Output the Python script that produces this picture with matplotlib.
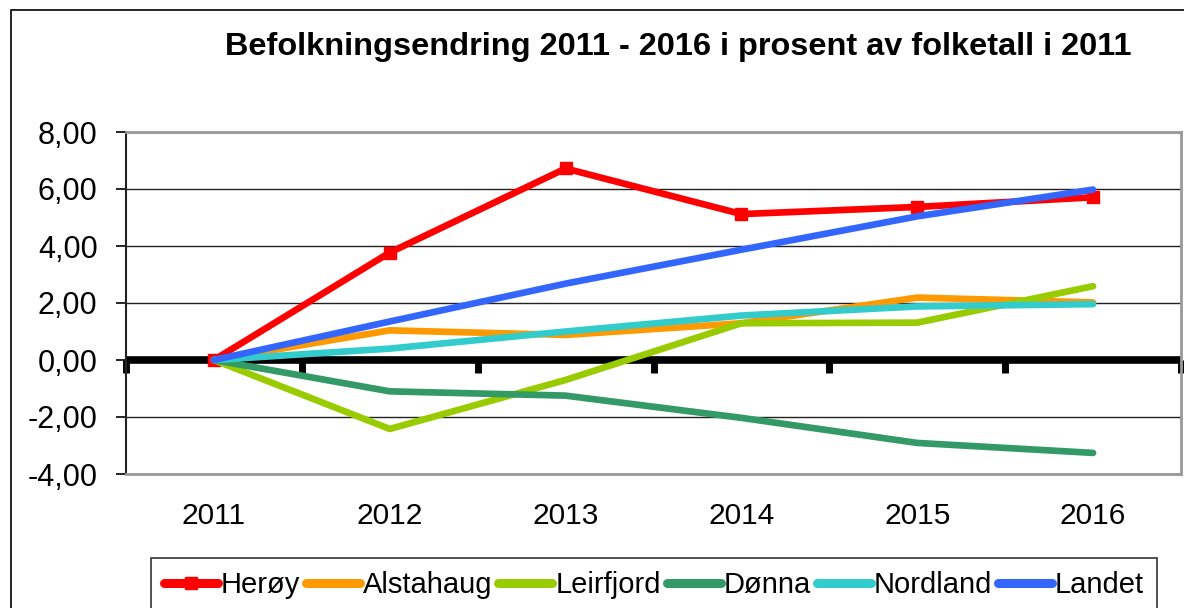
import matplotlib.pyplot as plt
import numpy as np
from matplotlib.patches import Rectangle

plt.rcParams['font.family'] = ['Liberation Sans', 'DejaVu Sans']

years = ['2011', '2012', '2013', '2014', '2015', '2016']
heroy = [0.0, 3.77, 6.72, 5.12, 5.37, 5.71]
alstahaug = [0.0, 1.04, 0.88, 1.29, 2.19, 2.02]
leirfjord = [0.0, -2.42, -0.70, 1.29, 1.31, 2.59]
donna = [0.0, -1.10, -1.25, -2.03, -2.91, -3.26]
nordland = [0.0, 0.40, 1.00, 1.56, 1.88, 1.96]
landet = [0.0, 1.35, 2.68, 3.87, 5.04, 5.98]

series = [
    ('Herøy', heroy, '#FF0000'),
    ('Alstahaug', alstahaug, '#FF9900'),
    ('Leirfjord', leirfjord, '#99CC00'),
    ('Dønna', donna, '#339966'),
    ('Nordland', nordland, '#33CCCC'),
    ('Landet', landet, '#3366FF'),
]

fig = plt.figure(figsize=(11.84, 6.08), dpi=100)
fig.patches.append(Rectangle((11 / 1184, -0.1), 1.2, 1.1 - 10 / 608,
                             transform=fig.transFigure, fill=False,
                             edgecolor='black', linewidth=1.2))

ax = fig.add_axes([126 / 1184, 134 / 608, 1055 / 1184, 342 / 608])
x = np.arange(len(years))

ax.axhline(0, color='black', linewidth=5.5, zorder=2)

for name, vals, color in series:
    if name == 'Herøy':
        ax.plot(x, vals, color=color, linewidth=4.8, marker='s',
                markersize=8.5, label=name, zorder=3)
    else:
        ax.plot(x, vals, color=color, linewidth=4.8,
                solid_capstyle='round', label=name, zorder=3)

ax.set_xlim(-0.5, len(years) - 0.5)
ax.set_ylim(-4, 8)
yt = np.arange(-4, 9, 2)
ax.set_yticks(yt)
ax.set_yticklabels(['{:.2f}'.format(v).replace('.', ',') for v in yt])
ax.set_xticks(x)
ax.set_xticklabels(years)
ax.tick_params(axis='x', length=0, pad=20, labelsize=21.5)
ax.tick_params(axis='y', length=7.5, width=1.2, direction='out', labelsize=22, pad=13)
ax.grid(axis='y', color='#222222', linewidth=1.0)
ax.set_axisbelow(True)

for side in ['top', 'right', 'bottom']:
    ax.spines[side].set_color('#999999')
    ax.spines[side].set_linewidth(2)
ax.spines['left'].set_color('#222222')
ax.spines['left'].set_linewidth(1.5)

# category axis crossing at zero
sec = ax.secondary_xaxis(1 / 3)
sec.set_xticks(np.arange(-0.5, len(years), 1))
sec.xaxis.set_ticks_position('bottom')
sec.tick_params(direction='out', length=9, width=5, color='black', labelbottom=False, labeltop=False)
for s in sec.spines.values():
    s.set_visible(False)

fig.text(678 / 1184, 1 - 47 / 608,
         'Befolkningsendring 2011 - 2016 i prosent av folketall i 2011',
         ha='center', va='center', fontsize=23.4, fontweight='bold')

handles, labels = ax.get_legend_handles_labels()
leg = fig.legend(handles, labels, loc='upper left',
                 bbox_to_anchor=(151 / 1184, 1 - 558 / 608),
                 ncol=6, fontsize=21, frameon=True, fancybox=False,
                 edgecolor='black', handlelength=1.85, handletextpad=0.1,
                 columnspacing=0.2, borderpad=0.45, borderaxespad=0)
leg.get_frame().set_linewidth(1.2)
for h in leg.legend_handles:
    h.set_linewidth(6.5)
    h.set_solid_capstyle('round')

fig.savefig('out.png', dpi=100)
